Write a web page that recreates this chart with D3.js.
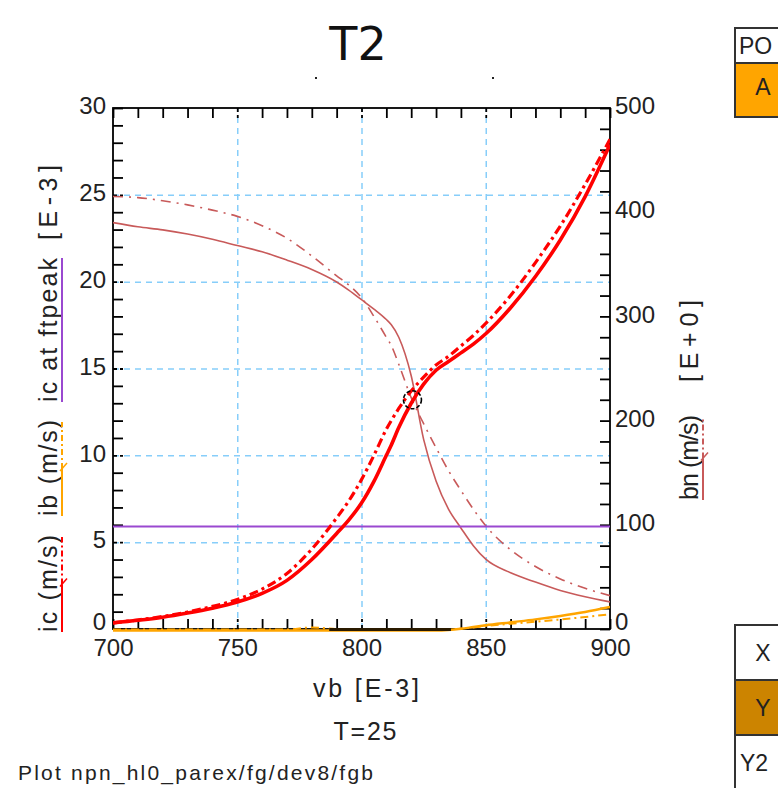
<!DOCTYPE html>
<html><head><meta charset="utf-8">
<script src="https://cdn.jsdelivr.net/npm/d3@7"></script>
<style>body{margin:0;background:#fff;} svg{display:block;}</style>
</head><body>
<svg id="c" width="778" height="788"></svg>
<script>
// ---- data ----
const vb       = [700,710,720,730,740,750,760,770,780,790,795,800,805,810,812,815,820,825,830,835,840,845,850,860,870,880,890,900];
const icSolid  = [0.35,0.5,0.68,0.92,1.2,1.55,2.05,2.8,4.0,5.5,6.3,7.25,8.5,10.0,10.6,11.6,13.0,14.1,14.9,15.4,15.9,16.4,17.0,18.5,20.3,22.4,24.9,27.9];
const icDash   = [0.35,0.52,0.72,0.98,1.3,1.7,2.3,3.2,4.6,6.4,7.4,8.6,10.0,11.5,12.0,12.7,13.7,14.5,15.2,15.7,16.3,16.9,17.6,19.2,21.1,23.2,25.6,28.2];
const ibSolid  = [0,0,0,0,0,0,0,0,0,0,0,0,0,0,0,0,0,0,0,0.03,0.1,0.2,0.3,0.47,0.64,0.84,1.07,1.35];
const ibDash   = [0,0,0,0,0,0,0,0,0.12,0.02,0,0,0,0,0,0,0,0,0,0.02,0.05,0.12,0.2,0.33,0.45,0.58,0.72,0.88];
const bnSolid  = [390,386,383,379,374,368,362,354,345,333,325,316,307,297,292,280,243,182,142,115,97,80,67,54,45,37,31,26];
const bnDash   = [415,414,411,407,402,396,387,375,358,339,330,318,300,280,272,254,222,197,174,152,133,115,99,76,60,48,39,32];
const ftpeakVb = [700,900];
const ftpeak   = [5.9,5.9];
const flatVb   = [787,836];
const flatIb   = [0,0];
const markerPt = [820.5,13.2];
const xTicks = [700,750,800,850,900];
const leftTicks = [0,5,10,15,20,25,30];
const rightTicks = [0,100,200,300,400,500];

const FONT = "'Liberation Sans', Arial, sans-serif";
const RED = "#ff0000", BN = "#c85a5a", ORANGE = "#ffa500", PURPLE = "#9a48d0", GRID = "#87cefa";
const TXT = "#222";

const svg = d3.select("#c");
const L = 113, R = 610, T = 108, B = 629;
const x  = d3.scaleLinear().domain([700,900]).range([L,R]);
const yL = d3.scaleLinear().domain([0,30]).range([B,T]);
const yR = d3.scaleLinear().domain([0,500]).range([B,T]);

// title
svg.append("text").attr("x",358).attr("y",60).attr("text-anchor","middle")
  .style("font-family","'DejaVu Sans', sans-serif").style("font-size","46px").attr("fill","#111").text("T2");
svg.append("rect").attr("x",315).attr("y",77).attr("width",2).attr("height",2).attr("fill","#222");
svg.append("rect").attr("x",492).attr("y",77).attr("width",2).attr("height",2).attr("fill","#222");

// grid
const gx = svg.append("g").attr("transform",`translate(0,${B})`)
  .call(d3.axisBottom(x).tickValues([750,800,850]).tickSize(-(B-T)).tickFormat(""));
gx.select(".domain").remove();
gx.selectAll("line").attr("stroke",GRID).attr("stroke-width",1.5).attr("stroke-dasharray","6,5");
const gy = svg.append("g").attr("transform",`translate(${L},0)`)
  .call(d3.axisLeft(yL).tickValues([5,10,15,20,25]).tickSize(-(R-L)).tickFormat(""));
gy.select(".domain").remove();
gy.selectAll("line").attr("stroke",GRID).attr("stroke-width",1.5).attr("stroke-dasharray","6,5");

// frame
svg.append("rect").attr("x",L).attr("y",T).attr("width",R-L).attr("height",B-T)
  .attr("fill","none").attr("stroke","#000").attr("stroke-width",1.8);

// minor ticks (inward)
function ticks(g, majorTest){
  g.select(".domain").remove();
  g.selectAll(".tick line").attr("stroke","#000").attr("stroke-width",1.8)
    .attr("stroke-dasharray", d => majorTest(d) ? "4,3" : null);
}
svg.append("g").attr("transform",`translate(${L},0)`)
  .call(d3.axisLeft(yL).tickValues(d3.range(0,31,1)).tickSize(-10).tickFormat(""))
  .call(g=>ticks(g, d=>d%5===0 && d>0 && d<30));
svg.append("g").attr("transform",`translate(${R},0)`)
  .call(d3.axisRight(yR).tickValues(d3.range(0,501,20)).tickSize(-10).tickFormat(""))
  .call(g=>ticks(g, d=>false));
svg.append("g").attr("transform",`translate(0,${T})`)
  .call(d3.axisTop(x).tickValues(d3.range(700,901,10)).tickSize(-10).tickFormat(""))
  .call(g=>ticks(g, d=>d%50===0 && d>700 && d<900));
svg.append("g").attr("transform",`translate(0,${B})`)
  .call(d3.axisBottom(x).tickValues(d3.range(700,901,10)).tickSize(-10).tickFormat(""))
  .call(g=>ticks(g, d=>d%50===0 && d>700 && d<900));

// data lines (drawn over the frame, like the reference)
const clip = svg.append("clipPath").attr("id","pc").append("rect")
  .attr("x",L).attr("y",T-2).attr("width",R-L).attr("height",B-T+5);
const plot = svg.append("g").attr("clip-path","url(#pc)");
function draw(xs, ys, yScale, color, w, dash, off){
  const line = d3.line().x((d,i)=>x(xs[i])).y((d,i)=>yScale(ys[i]) + (off||0)).curve(d3.curveMonotoneX);
  plot.append("path").attr("d", line(ys)).attr("fill","none").attr("stroke",color)
    .attr("stroke-width",w).attr("stroke-dasharray",dash||null).attr("stroke-linejoin","round");
}
draw(vb, bnSolid, yR, BN, 1.6);
draw(vb, bnDash, yR, BN, 1.6, "10,6,2,6");
draw(ftpeakVb, ftpeak, yL, PURPLE, 2);
draw(vb, ibSolid, yL, ORANGE, 2.5, null, 1.5);
draw(vb, ibDash, yL, ORANGE, 2, "8,4,2,4", 0.5);
draw(flatVb, flatIb, yL, "#2a1a00", 3.2, null, 0.5);
draw(vb, icDash, yL, RED, 3.2, "9,4,3,4");
draw(vb, icSolid, yL, RED, 3.6);
svg.append("circle").attr("cx",x(markerPt[0])).attr("cy",yL(markerPt[1])).attr("r",9)
  .attr("fill","none").attr("stroke","#000").attr("stroke-width",1.6).attr("stroke-dasharray","4,2");

// tick labels
function labels(g, shift){
  g.select(".domain").remove();
  g.selectAll("text").style("font-family",FONT).style("font-size","24px").attr("fill",TXT);
  if (shift) g.selectAll(".tick").attr("transform", function(d){
    const cur = d3.select(this).attr("transform");
    const m = /translate\(([^,]+),([^)]+)\)/.exec(cur);
    return `translate(${m[1]},${+m[2] + (d===0 ? -7 : -2)})`;
  });
}
svg.append("g").attr("transform",`translate(${L},0)`)
  .call(d3.axisLeft(yL).tickValues(leftTicks).tickSize(0).tickPadding(7)).call(g=>labels(g,true));
svg.append("g").attr("transform",`translate(${R},0)`)
  .call(d3.axisRight(yR).tickValues(rightTicks).tickSize(0).tickPadding(5)).call(g=>labels(g,true));
svg.append("g").attr("transform",`translate(0,${B})`)
  .call(d3.axisBottom(x).tickValues(xTicks).tickSize(0).tickPadding(10)).call(g=>labels(g,false));

// axis titles
function txt(xp, yp, s, size, len, anchor){
  const t = svg.append("text").attr("x",xp).attr("y",yp).attr("text-anchor",anchor||"middle")
    .style("font-family",FONT).style("font-size",size+"px").attr("fill",TXT).text(s);
  if (len) t.attr("textLength",len).attr("lengthAdjust","spacing");
  return t;
}
txt(366,697,"vb  [E-3]",25,106);
txt(365,740,"T=25",25,63);
txt(18,780,"Plot npn_hl0_parex/fg/dev8/fgb",21,355,"start");

// rotated legend labels
function vtext(bx, yBottom, yTop, s){
  svg.append("text").attr("transform",`translate(${bx},${yBottom}) rotate(-90)`)
    .style("font-family",FONT).style("font-size","25px").attr("fill",TXT)
    .attr("textLength",yBottom-yTop).attr("lengthAdjust","spacing").text(s);
}
function uline(ux, y0, y1, color, dashed){
  if (!dashed){
    svg.append("line").attr("x1",ux).attr("x2",ux).attr("y1",y0).attr("y2",y1)
      .attr("stroke",color).attr("stroke-width",2);
    return;
  }
  const mid = y0 - (y0-y1)*0.5;
  svg.append("line").attr("x1",ux).attr("x2",ux).attr("y1",y0).attr("y2",mid)
    .attr("stroke",color).attr("stroke-width",2);
  svg.append("line").attr("x1",ux).attr("x2",ux).attr("y1",mid).attr("y2",y1)
    .attr("stroke",color).attr("stroke-width",2).attr("stroke-dasharray","6,3,2,3");
  svg.append("line").attr("x1",ux-2).attr("x2",ux+5).attr("y1",mid+2).attr("y2",mid-6)
    .attr("stroke",color).attr("stroke-width",1.5);
}
vtext(57,632,535,"ic (m/s)");
vtext(57,516,420,"ib (m/s)");
vtext(57,402,258,"ic  at  ftpeak");
vtext(57,240,165,"[E-3]");
uline(62,632,537,RED,true);
uline(62,516,422,ORANGE,true);
uline(62,402,258,PURPLE,false);

vtext(698,500,415,"bn (m/s)");
vtext(698,382,300,"[E+0]");
uline(703,500,417,BN,true);

// right-side panels
const P = svg.append("g");
P.append("rect").attr("x",735).attr("y",28).attr("width",60).attr("height",35).attr("fill","#fff").attr("stroke","#333").attr("stroke-width",2);
P.append("rect").attr("x",735).attr("y",63).attr("width",60).attr("height",54).attr("fill",ORANGE).attr("stroke","#333").attr("stroke-width",2);
txt(739,54,"PO",23,null,"start");
txt(763,95,"A",23);
P.append("rect").attr("x",735).attr("y",625).attr("width",60).attr("height",55).attr("fill","#fff").attr("stroke","#333").attr("stroke-width",2);
P.append("rect").attr("x",735).attr("y",680).attr("width",60).attr("height",55).attr("fill","#cc8400").attr("stroke","#333").attr("stroke-width",2);
P.append("rect").attr("x",735).attr("y",735).attr("width",60).attr("height",60).attr("fill","#fff").attr("stroke","#333").attr("stroke-width",2);
txt(763,661,"X",23);
txt(763,716,"Y",23);
txt(740,771,"Y2",23,null,"start");
</script>
</body></html>
